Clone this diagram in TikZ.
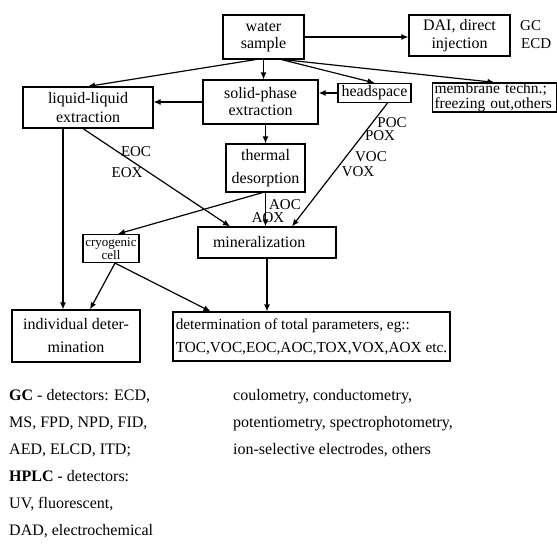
\documentclass[tikz,border=0pt]{standalone}
\usepackage{fontspec}
\setmainfont{Liberation Serif}
\usetikzlibrary{arrows.meta}

\begin{document}
\begin{tikzpicture}[x=1pt, y=-1pt,
  box/.style={draw, line width=1.2pt, inner sep=0pt, align=center, font=\fontsize{16}{17}\selectfont},
  flow/.style={line width=1.2pt, -{Latex[length=7pt,width=6pt]}},
  tag/.style={inner sep=0pt, font=\fontsize{15}{15}\selectfont},
  note/.style={inner sep=0pt, align=left, anchor=north west, font=\fontsize{16}{27}\selectfont}]
\useasboundingbox (0,0) rectangle (557,557);
\node[box, minimum width=81pt, minimum height=44pt] (water) at (263.5,37) {water\\sample};
\node[box, minimum width=101pt, minimum height=41pt, font=\fontsize{16}{18}\selectfont] (dai) at (459.5,35.5) {DAI, direct\\injection};
\node[tag, anchor=west] (gc) at (520,26) {GC};
\node[tag, anchor=west] (ecd) at (521,44) {ECD};
\node[box, minimum width=130pt, minimum height=41pt, font=\fontsize{16}{19}\selectfont] (liq) at (88,107.5) {liquid-liquid\\extraction};
\node[box, minimum width=115pt, minimum height=44pt] (solid) at (260.5,102) {solid-phase\\extraction};
\node[box, minimum width=73pt, minimum height=19pt] (hs) at (374.5,93) {headspace};
\node[box, minimum width=124pt, minimum height=29pt, align=left, text width=120pt, font=\fontsize{15.5}{14.5}\selectfont] (mem) at (494.5,97.5) {membrane techn.;\\freezing out,others};
\node[box, minimum width=79pt, minimum height=48pt, font=\fontsize{16}{23}\selectfont] (thermal) at (265.5,168) {thermal\\desorption};
\node[box, minimum width=138pt, minimum height=31pt, align=left, text width=108pt, inner xsep=15pt] (min) at (267,242.5) {mineralization};
\node[box, minimum width=56pt, minimum height=28pt, font=\fontsize{13}{11.5}\selectfont] (cryo) at (111,248.5) {cryogenic\\cell};
\node[box, minimum width=128pt, minimum height=52pt, font=\fontsize{16}{23}\selectfont] (indiv) at (76,336) {individual deter-\\mination};
\node[box, minimum width=277pt, minimum height=49pt, align=left, font=\fontsize{15.3}{23}\selectfont] (total) at (311.5,336.5) {determination of total parameters, eg::\\TOC,VOC,EOC,AOC,TOX,VOX,AOX etc.};
\node[tag] (eoc) at (136,152) {EOC};
\node[tag] (eox) at (127,173) {EOX};
\node[tag] (aoc) at (285,205) {AOC};
\node[tag] (aox) at (268,218) {AOX};
\node[tag] (poc) at (392,123) {POC};
\node[tag] (pox) at (380,136) {POX};
\node[tag] (voc) at (371,157) {VOC};
\node[tag] (vox) at (358,172) {VOX};
\draw[flow] (water.east) -- (water.east -| dai.west);
\draw[flow] (water.south) -- (water.south |- solid.north);
\draw[flow] ([xshift=-8pt]water.south) -- (liq.north);
\draw[flow] ([xshift=18pt]water.south) -- (hs.north);
\draw[flow] ([xshift=20pt]water.south) -- (mem.north);
\draw[flow] (solid.west) -- (solid.west -| liq.east);
\draw[flow] (hs.west) -- (hs.west -| solid.east);
\draw[flow] (thermal.north |- solid.south) -- (thermal.north);
\draw[flow] ([xshift=-5pt]liq.south) -- ([xshift=-37pt]min.north);
\draw[flow] ([xshift=-25pt]liq.south) -- ([xshift=-25pt]liq.south |- indiv.north);
\draw[flow] (thermal.south) -- (thermal.south |- min.north);
\draw[flow] ([xshift=-3pt]thermal.south) -- ([xshift=7pt]cryo.north);
\draw[flow] ([xshift=13pt]hs.south) -- ([xshift=25pt]min.north);
\draw[flow] (min.south) -- (min.south |- total.north);
\draw[flow] ([xshift=4pt]cryo.south) -- ([xshift=14pt]indiv.north);
\draw[flow] ([xshift=4pt]cryo.south) -- ([xshift=-101pt]total.north);
\node[note] (gclist) at (9,389) {\textbf{GC} - detectors: ECD,\\MS, FPD, NPD, FID,\\AED, ELCD, ITD;\\\textbf{HPLC} - detectors:\\UV, fluorescent,\\DAD, electrochemical};
\node[note] (mineral) at (233,389) {coulometry, conductometry,\\potentiometry, spectrophotometry,\\ion-selective electrodes, others};
\end{tikzpicture}
\end{document}
